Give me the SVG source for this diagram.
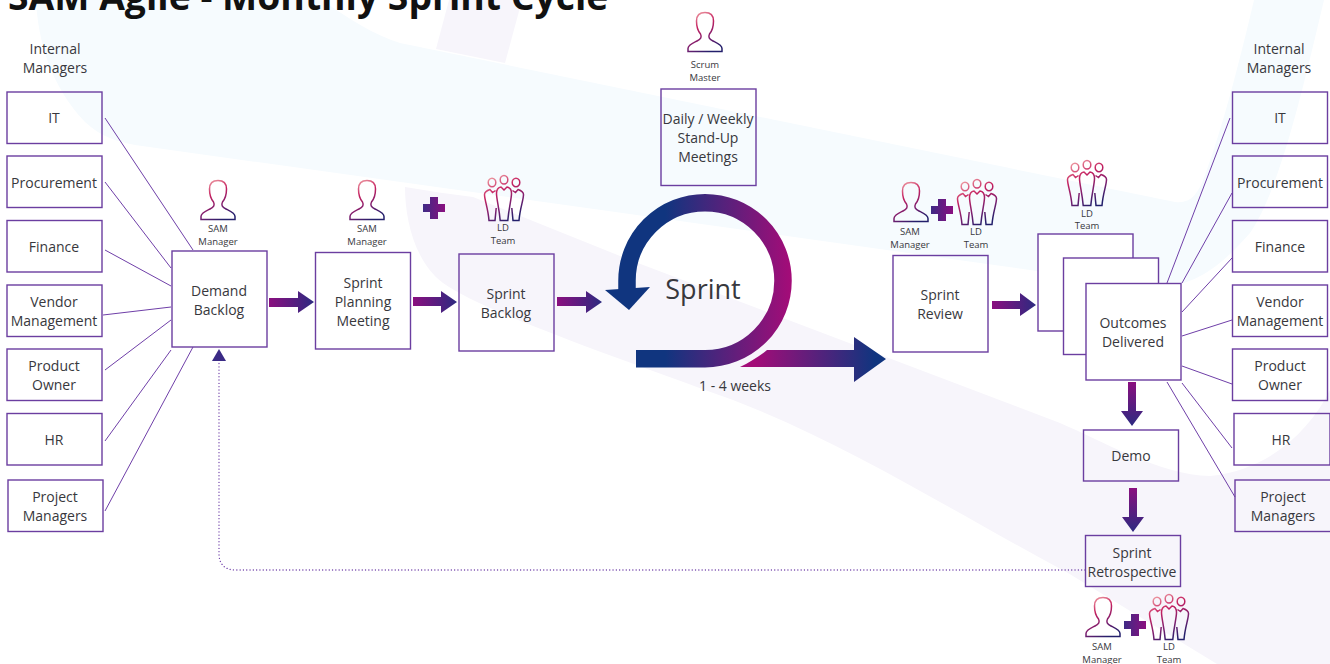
<svg xmlns="http://www.w3.org/2000/svg" width="1330" height="664" viewBox="0 0 1330 664">
<style>
text{font-family:"Open Sans","Noto Sans",sans-serif;fill:#38383d;text-anchor:middle}
.t{font-size:14px}
.s{font-size:9.5px}
.b{fill:none;stroke:#6b3ea0;stroke-width:1.4}
.w{fill:#fff;stroke:#6b3ea0;stroke-width:1.4}
.l{fill:none;stroke:#6f3fa8;stroke-width:1}
</style>
<defs>
<linearGradient id="gi" x1="0.2" y1="0" x2="0.65" y2="1"><stop offset="0" stop-color="#f0a0a5"/><stop offset="0.35" stop-color="#c52160"/><stop offset="0.7" stop-color="#7a1f70"/><stop offset="1" stop-color="#231f6b"/></linearGradient>
<linearGradient id="gh" x1="0" y1="0" x2="1" y2="0"><stop offset="0" stop-color="#8a0f7f"/><stop offset="1" stop-color="#2d2a80"/></linearGradient>
<linearGradient id="gv" x1="0" y1="0" x2="0" y2="1"><stop offset="0" stop-color="#8a0f7f"/><stop offset="1" stop-color="#2d2a80"/></linearGradient>
<linearGradient id="gp" x1="0" y1="0" x2="1" y2="0"><stop offset="0" stop-color="#3f2a85"/><stop offset="1" stop-color="#8a0f7f"/></linearGradient>
<linearGradient id="gr" gradientUnits="userSpaceOnUse" x1="665" y1="0" x2="790" y2="0"><stop offset="0" stop-color="#10357f"/><stop offset="1" stop-color="#a30c78"/></linearGradient>
<linearGradient id="gf" gradientUnits="userSpaceOnUse" x1="755" y1="0" x2="875" y2="0"><stop offset="0" stop-color="#a30c78"/><stop offset="1" stop-color="#10357f"/></linearGradient>
<symbol id="person" overflow="visible"><path fill="none" stroke="url(#gi)" stroke-width="1.5" d="M-17 39.5V36.5C-17 33 -12 31 -8 29C-4 27 -3 25 -4.5 22C-7 19 -8.5 15 -8.5 9C-8.5 3 -5 .5 0 .5C5 .5 8.5 3 8.5 9C8.5 15 7 19 4.5 22C3 25 4 27 8 29C12 31 17 33 17 36.5V39.5Z"/></symbol>
<symbol id="team" overflow="visible"><path fill="none" stroke="url(#gi)" stroke-width="1.5" d="M-3.8 4.800a3.800 4.300 0 1 0 7.600 0a3.800 4.300 0 1 0 -7.600 0ZM-15.800 7.500a3.800 4.300 0 1 0 7.600 0a3.800 4.300 0 1 0 -7.600 0ZM8.200 7.500a3.800 4.300 0 1 0 7.600 0a3.800 4.300 0 1 0 -7.600 0ZM-3 12L0 15L3 12C6 12.500 7.500 14.500 7.500 18.500C7.500 24 5 32 3.800 45.500H-3.800C-5 32 -7.500 24 -7.500 18.500C-7.500 14.500 -6 12.500 -3 12ZM-8.500 15.500L-11.500 17.500L-14 14.500C-17 15.500 -19.500 16.500 -19.500 19.500C-19.500 25 -16 33 -15 45.500H-9L-7.800 33M8.500 15.500L11.500 17.500L14 14.500C17 15.500 19.500 16.500 19.500 19.500C19.500 25 16 33 15 45.500H9L7.800 33"/></symbol>
<symbol id="plus" overflow="visible"><path fill="url(#gp)" d="M-4 -11H4V-4H11V4H4V11H-4V4H-11V-4H-4Z"/></symbol>
</defs>
<g id="background">
<path fill="#f6fbfe" d="M36 0C38 40 50 85 85 122C100 136 115 141 135 145L1030 270C1090 279 1130 285 1160 287C1200 286 1228 258 1250 233C1280 190 1305 80 1324 0H1254C1240 60 1222 130 1205 175C1198 195 1190 204 1175 202L400 43C375 35 350 20 322 0Z"/>
<path fill="#f7f5fb" d="M436 49L505 63L522 0H449Z"/>
<path fill="#f7f5fb" d="M405 187C405 220 415 262 443 283C480 310 610 355 733 400C850 445 950 510 1068 573L1217 664H1330V390C1310 430 1270 470 1210 476C1160 475 1100 440 1060 423L630 260L473 197C450 194 428 191 405 187Z"/>
</g>
<text x="8" y="10" style="font-size:37.300px;font-weight:700;fill:#111;text-anchor:start">SAM Agile - Monthly Sprint Cycle</text>
<g id="connectors">
<path class="l" d="M105 118L193 250M105 182L171 268M105 250L171 286M103 315L171 307M105 370L171 320M105 441L171 350M105 511L193 347"/>
<path class="l" d="M1230 118L1167 283M1232 193L1182 283M1232 258L1182 312M1232 320L1182 336M1232 384L1182 366M1232 448L1182 383M1235 497L1167 382"/>
<path fill="url(#gh)" d="M269 298H298V291L314 302L298 313V307H269Z"/>
<path fill="url(#gh)" d="M413 297H441V291L457 302L441 313V306H413Z"/>
<path fill="url(#gh)" d="M557 297H586V291L602 302L586 313V306H557Z"/>
<path fill="url(#gh)" d="M992 301H1020V293L1036 305L1020 316V309H992Z"/>
<path fill="url(#gv)" d="M1128 382H1136V411H1143L1132 426L1121 411H1128Z"/>
<path fill="url(#gv)" d="M1129 488H1137V517H1144L1133 532L1122 517H1129Z"/>
<path fill="none" stroke="#6f3fa8" stroke-width="1.300" stroke-linecap="round" stroke-dasharray="0.1 3.200" d="M1085 570H235C225 570 219 564 219 554V361"/>
<path fill="#3a2a85" d="M219 349L226 361H212Z"/>
</g>
<g id="sprint-loop">
<path fill="none" stroke="url(#gr)" stroke-width="17.500" d="M636 358.700H705A78 78 0 1 0 627 280.700V292"/>
<path fill="url(#gr)" d="M605 290L650 287L629 310Z"/>
<path fill="url(#gf)" d="M740 367C750 362 760 356 767 350H854V337L886 359L854 382V367Z"/>
<text x="703" y="299" style="font-size:27px">Sprint</text>
<text x="735" y="391" class="t">1 - 4 weeks</text>
</g>
<g id="im-left-title"><text x="55" y="54" class="t">Internal</text><text x="55" y="73" class="t">Managers</text></g>
<g id="im-right-title"><text x="1279" y="54" class="t">Internal</text><text x="1279" y="73" class="t">Managers</text></g>
<g id="l-it"><rect class="b" x="7" y="92" width="95" height="51.500"/><text x="54" y="123" class="t">IT</text></g>
<g id="l-procurement"><rect class="b" x="7" y="156" width="95" height="51.500"/><text x="54" y="188" class="t">Procurement</text></g>
<g id="l-finance"><rect class="b" x="7" y="220.500" width="95" height="51.500"/><text x="54" y="252" class="t">Finance</text></g>
<g id="l-vendor"><rect class="b" x="7" y="285" width="95" height="51.500"/><text x="54" y="307" class="t">Vendor</text><text x="54" y="326" class="t">Management</text></g>
<g id="l-product"><rect class="b" x="7" y="349" width="95" height="51.500"/><text x="54" y="371" class="t">Product</text><text x="54" y="390" class="t">Owner</text></g>
<g id="l-hr"><rect class="b" x="7" y="413.500" width="95" height="51.500"/><text x="54" y="445" class="t">HR</text></g>
<g id="l-project"><rect class="b" x="8" y="480" width="95" height="51.500"/><text x="55" y="502" class="t">Project</text><text x="55" y="521" class="t">Managers</text></g>
<g id="r-it"><rect class="b" x="1232.500" y="92" width="95" height="51.500"/><text x="1280" y="123" class="t">IT</text></g>
<g id="r-procurement"><rect class="b" x="1232.500" y="156" width="95" height="51.500"/><text x="1280" y="188" class="t">Procurement</text></g>
<g id="r-finance"><rect class="b" x="1232.500" y="220.500" width="95" height="51.500"/><text x="1280" y="252" class="t">Finance</text></g>
<g id="r-vendor"><rect class="b" x="1232.500" y="285" width="95" height="51.500"/><text x="1280" y="307" class="t">Vendor</text><text x="1280" y="326" class="t">Management</text></g>
<g id="r-product"><rect class="b" x="1232.500" y="349" width="95" height="51.500"/><text x="1280" y="371" class="t">Product</text><text x="1280" y="390" class="t">Owner</text></g>
<g id="r-hr"><rect class="b" x="1234" y="413.500" width="96" height="51.500"/><text x="1281" y="445" class="t">HR</text></g>
<g id="r-project"><rect class="b" x="1235" y="480" width="96" height="51.500"/><text x="1283" y="502" class="t">Project</text><text x="1283" y="521" class="t">Managers</text></g>
<g id="demand-backlog"><use href="#person" x="218" y="180"/><text x="218" y="232" class="s">SAM</text><text x="218" y="245" class="s">Manager</text><rect class="b" x="172" y="251" width="95" height="96"/><text x="219" y="296" class="t">Demand</text><text x="219" y="315" class="t">Backlog</text></g>
<g id="sprint-planning"><use href="#person" x="367" y="180"/><text x="367" y="232" class="s">SAM</text><text x="367" y="245" class="s">Manager</text><rect class="b" x="315.500" y="252.500" width="95" height="96.500"/><text x="363" y="288" class="t">Sprint</text><text x="363" y="307" class="t">Planning</text><text x="363" y="326" class="t">Meeting</text></g>
<g id="sprint-backlog"><use href="#plus" x="434" y="208"/><use href="#team" x="504" y="175"/><text x="503" y="231" class="s">LD</text><text x="503" y="244" class="s">Team</text><rect class="b" x="459" y="254" width="95" height="97"/><text x="506" y="299" class="t">Sprint</text><text x="506" y="318" class="t">Backlog</text></g>
<g id="daily-standup"><use href="#person" x="705" y="12"/><text x="705" y="68" class="s">Scrum</text><text x="705" y="81" class="s">Master</text><rect class="b" x="661" y="89" width="95" height="96.500"/><text x="708" y="124" class="t">Daily / Weekly</text><text x="708" y="143" class="t">Stand-Up</text><text x="708" y="162" class="t">Meetings</text></g>
<g id="sprint-review"><use href="#person" x="911" y="182"/><use href="#plus" x="942" y="210"/><use href="#team" x="977" y="179"/><text x="910" y="235" class="s">SAM</text><text x="910" y="248" class="s">Manager</text><text x="976" y="235" class="s">LD</text><text x="976" y="248" class="s">Team</text><rect class="b" x="893" y="255.500" width="95" height="96.500"/><text x="940" y="300" class="t">Sprint</text><text x="940" y="319" class="t">Review</text></g>
<g id="outcomes"><use href="#team" x="1087" y="160"/><text x="1087" y="217" class="s">LD</text><text x="1087" y="229" class="s">Team</text><rect class="w" x="1038" y="234" width="95" height="97"/><rect class="w" x="1063.500" y="258" width="95" height="96.500"/><rect class="w" x="1086" y="283.500" width="95" height="96.500"/><text x="1133" y="328" class="t">Outcomes</text><text x="1133" y="347" class="t">Delivered</text></g>
<g id="demo"><rect class="b" x="1083.500" y="430" width="95" height="51"/><text x="1131" y="461" class="t">Demo</text></g>
<g id="sprint-retrospective"><rect class="b" x="1085.500" y="535.500" width="95" height="51"/><text x="1132" y="558" class="t">Sprint</text><text x="1132" y="577" class="t">Retrospective</text><use href="#person" x="1103" y="597"/><use href="#plus" x="1135" y="625"/><use href="#team" x="1169" y="594"/><text x="1102" y="650" class="s">SAM</text><text x="1102" y="663" class="s">Manager</text><text x="1169" y="650" class="s">LD</text><text x="1169" y="663" class="s">Team</text></g>
</svg>
